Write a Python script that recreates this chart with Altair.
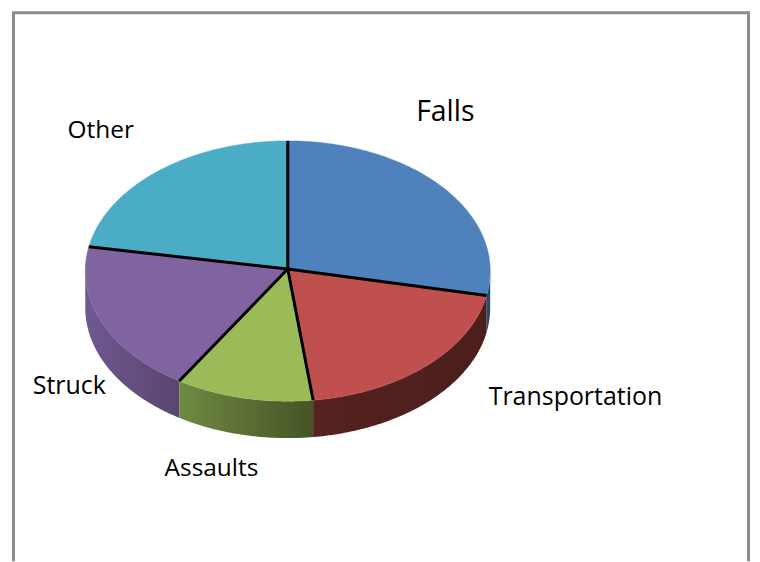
import numpy as np
import pandas as pd
import altair as alt

categories = ["Falls", "Transportation", "Assaults", "Struck", "Other"]
shares = [28, 20, 11, 19, 22]
top_colors = ["#4f81bd", "#c0504d", "#9bbb59", "#8064a2", "#4bacc6"]
side_stops = [
    ["#2c4a6e", "#2c4a6e"],
    ["#55221f", "#4c1f1c"],
    ["#708a42", "#455326"],
    ["#6e5890", "#5a4670"],
    ["#2c6678", "#2c6678"],
]
label_font = ["Open Sans"]
label_sizes = [28.5, 25, 24.5, 25, 24.5]
label_x = [446.5, 577, 212, 69.5, 101]
label_y = [120.5, 405, 477, 394, 138]

CX, CY = 288.5, 271.0
RX, RY = 203.0, 130.5
APEX = (288.5, 269.0)
DEPTH = 37.0
W, H = 744, 554

xs = alt.X("x:Q", scale=alt.Scale(domain=[8, 8 + W], nice=False, zero=False), axis=None)
ys = alt.Y("y:Q", scale=alt.Scale(domain=[8 + H, 8], nice=False, zero=False), axis=None)

ends = np.cumsum(shares) / sum(shares) * 2 * np.pi
starts = np.concatenate([[0.0], ends[:-1]])


def rim(t):
    return CX + RX * np.sin(t), CY - RY * np.cos(t)


layers = []

# side walls, front half of the ellipse only
for i, (a, b) in enumerate(zip(starts, ends)):
    a2, b2 = max(a, np.pi / 2), min(b, 3 * np.pi / 2)
    if b2 <= a2:
        continue
    t = np.linspace(a2, b2, 80)
    px, py = rim(t)
    df = pd.DataFrame({"x": px, "y": py, "y2": py + DEPTH}).sort_values("x")
    grad = alt.Gradient(
        gradient="linear",
        stops=[
            alt.GradientStop(color=side_stops[i][0], offset=0),
            alt.GradientStop(color=side_stops[i][1], offset=1),
        ],
        x1=0, x2=1, y1=0, y2=0,
    )
    layers.append(
        alt.Chart(df).mark_area(color=grad, orient="vertical").encode(x=xs, y=ys, y2="y2:Q")
    )

# top faces
for i, (a, b) in enumerate(zip(starts, ends)):
    t = np.linspace(a, b, 120)
    px, py = rim(t)
    df = pd.DataFrame({
        "x": np.concatenate([[APEX[0]], px, [APEX[0]]]),
        "y": np.concatenate([[APEX[1]], py, [APEX[1]]]),
    })
    df["i"] = range(len(df))
    layers.append(
        alt.Chart(df).mark_line(fill=top_colors[i], stroke=top_colors[i], strokeWidth=0.5, filled=True)
        .encode(x=xs, y=ys, order="i:Q")
    )

# spokes
sx, sy = rim(ends)
spokes = pd.DataFrame({
    "x": [APEX[0]] * 5, "y": [APEX[1]] * 5, "x2": sx, "y2": sy,
})
layers.append(
    alt.Chart(spokes).mark_rule(color="#000000", strokeWidth=3).encode(x=xs, y=ys, x2="x2:Q", y2="y2:Q")
)

# labels
for i, name in enumerate(categories):
    df = pd.DataFrame({"x": [label_x[i]], "y": [label_y[i]], "t": [name]})
    layers.append(
        alt.Chart(df).mark_text(
            font=label_font[0], fontSize=label_sizes[i], color="#000000",
            align="center", baseline="alphabetic",
        ).encode(x=xs, y=ys, text="t:N")
    )

# slide frame
FRAME = "#8c8c8c"
one = pd.DataFrame({"a": [0]})
layers.append(alt.Chart(one).mark_rule(color=FRAME, strokeWidth=3).encode(
    x=alt.value(5.5), y=alt.value(4), y2=alt.value(H)))
layers.append(alt.Chart(one).mark_rule(color=FRAME, strokeWidth=3).encode(
    x=alt.value(W - 1.5), y=alt.value(4), y2=alt.value(H)))
layers.append(alt.Chart(one).mark_rule(color=FRAME, strokeWidth=3).encode(
    x=alt.value(4), x2=alt.value(W), y=alt.value(4)))

chart = (
    alt.layer(*layers)
    .properties(width=W, height=H, padding=0, background="#ffffff")
    .configure_view(strokeWidth=0)
)
chart.save("out.html", embed_options={"renderer": "svg", "actions": False})
